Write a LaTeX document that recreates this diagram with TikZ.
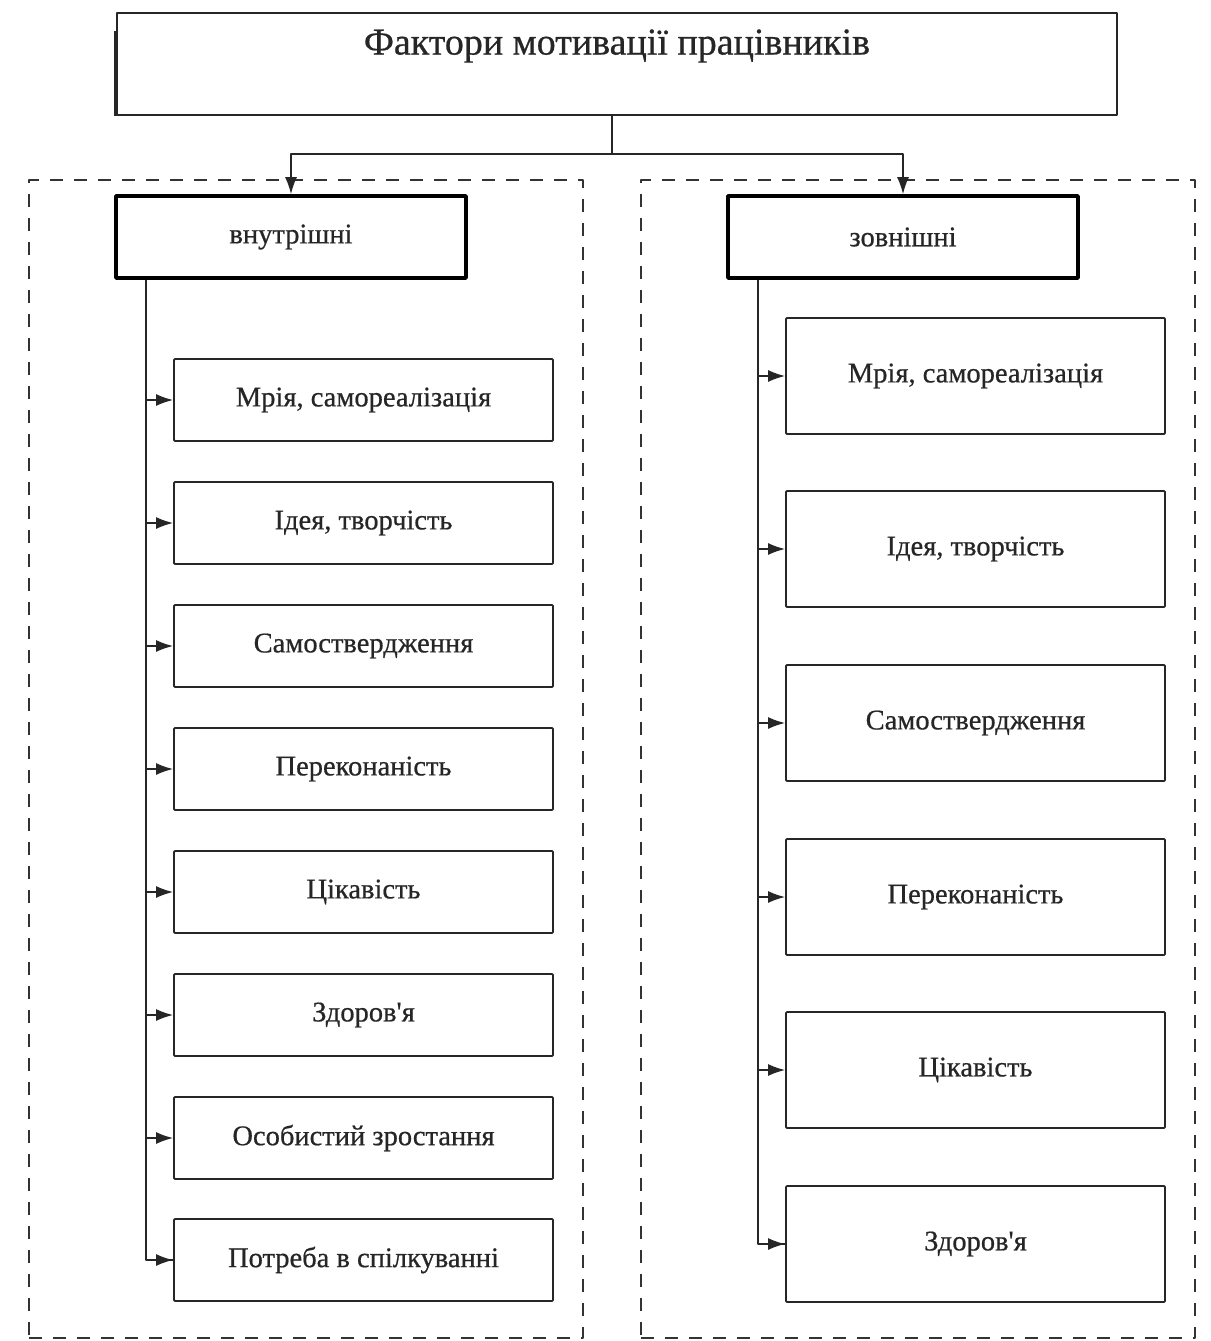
\documentclass[tikz,border=0pt]{standalone}
\usepackage{fontspec}
\setmainfont{Liberation Serif}
\newfontfamily\heavyserif[FakeBold=0.6]{Liberation Serif}
\usetikzlibrary{arrows.meta}
\begin{document}
\begin{tikzpicture}[x=1pt,y=-1pt,
  line join=round,
  txt/.style={text=black!85},
  group/.style={draw=black!80, line width=2pt, dash pattern=on 13pt off 11pt,
    inner sep=0pt, minimum width=554pt, minimum height=1158pt},
  topbox/.style={draw=black!85, line width=1.8pt, inner sep=0pt,
    minimum width=1000pt, minimum height=102pt},
  headbox/.style={draw=black, line width=3.6pt, inner sep=0pt,
    minimum width=350pt, minimum height=82pt, txt,
    font=\heavyserif\fontsize{28.5}{32}\selectfont},
  itemL/.style={draw=black!85, line width=1.8pt, inner sep=0pt, rounded corners=1pt,
    minimum width=379pt, minimum height=82pt, txt,
    font=\heavyserif\fontsize{28.5}{32}\selectfont},
  itemR/.style={itemL, minimum height=116pt},
  link/.style={draw=black!85, line width=1.6pt},
  arr/.style={link, -{Latex[length=17pt,width=12pt]}}
]
\useasboundingbox (0,0) rectangle (1210,1341);

% dashed frames of the two groups
\node[group] (gl) at (306,759) {};
\node[group] (gr) at (918,759) {};

% title box
\node[topbox] (top) at (617,64) {};
\node[txt, font=\heavyserif\fontsize{38}{42}\selectfont] (title) at (617,46) {Фактори мотивації працівників};
\draw[black!85, line width=3.4pt] (top.south west) -- ++(0,-85);

% group headers
\node[headbox] (hl) at (291,237) {внутрішні};
\node[headbox] (hr) at (903,237) {зовнішні};

% branch from the title to the headers
\draw[link] (top.south -| 612,0) -- ++(0,38) coordinate (tj);
\draw[arr] (tj) -| (hl.north);
\draw[arr] (tj) -| (hr.north);

% internal factors
\node[itemL] (l1) at (363.5,400)  {Мрія, самореалізація};
\node[itemL] (l2) at (363.5,523)  {Ідея, творчість};
\node[itemL] (l3) at (363.5,646)  {Самоствердження};
\node[itemL] (l4) at (363.5,769)  {Переконаність};
\node[itemL] (l5) at (363.5,892)  {Цікавість};
\node[itemL] (l6) at (363.5,1015) {Здоров\textquotesingle я};
\node[itemL] (l7) at (363.5,1138) {Особистий зростання};
\node[itemL] (l8) at (363.5,1260) {Потреба в спілкуванні};

\coordinate (lt) at (hl.south -| 146,0);
\draw[link] (lt) |- (l8.west);
\foreach \i in {1,...,8} \draw[arr] (lt |- l\i.west) -- (l\i.west);

% external factors
\node[itemR] (r1) at (975.5,376)  {Мрія, самореалізація};
\node[itemR] (r2) at (975.5,549)  {Ідея, творчість};
\node[itemR] (r3) at (975.5,723)  {Самоствердження};
\node[itemR] (r4) at (975.5,897)  {Переконаність};
\node[itemR] (r5) at (975.5,1070) {Цікавість};
\node[itemR] (r6) at (975.5,1244) {Здоров\textquotesingle я};

\coordinate (rt) at (hr.south -| 758,0);
\draw[link] (rt) |- (r6.west);
\foreach \i in {1,...,6} \draw[arr] (rt |- r\i.west) -- (r\i.west);
\end{tikzpicture}
\end{document}
